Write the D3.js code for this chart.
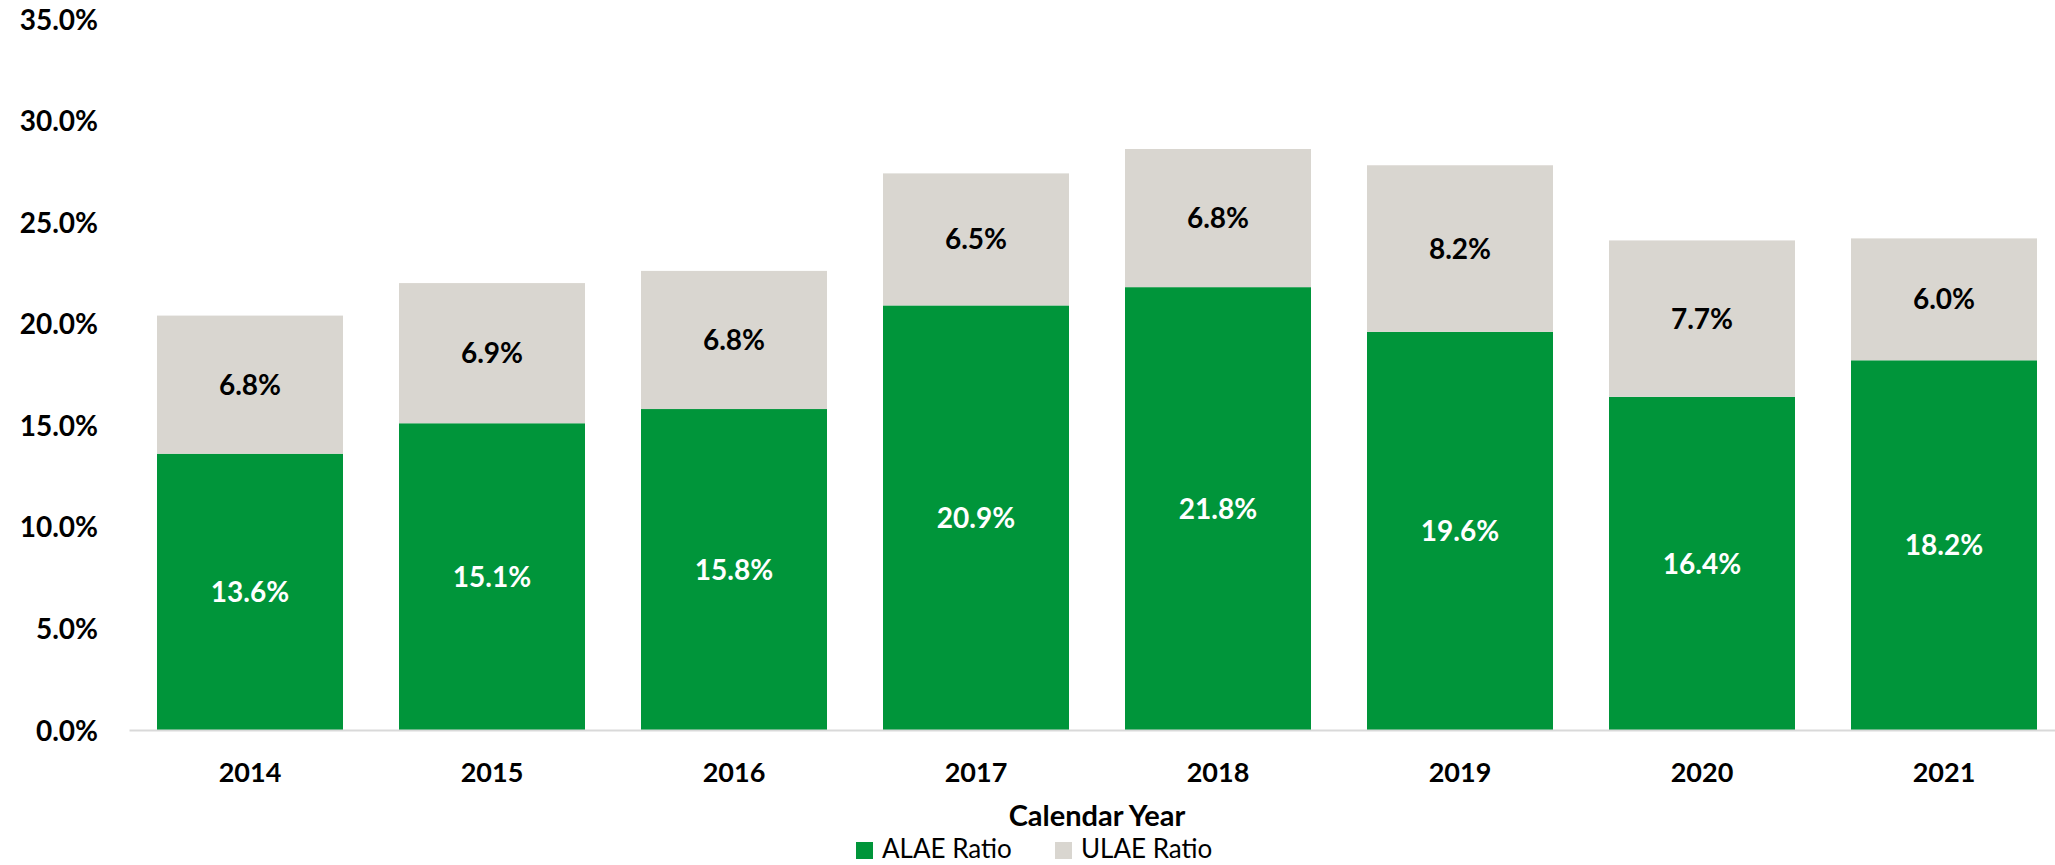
<!DOCTYPE html>
<html>
<head>
<meta charset="utf-8">
<script src="https://cdn.jsdelivr.net/npm/d3@7"></script>
<style>
  html, body { margin: 0; padding: 0; background: #fff; }
  svg { display: block; font-family: Lato, "Open Sans", sans-serif; }
</style>
</head>
<body>
<svg id="chart" width="2055" height="865"></svg>
<script>
const years = ["2014", "2015", "2016", "2017", "2018", "2019", "2020", "2021"];
const alaeRatio = [13.6, 15.1, 15.8, 20.9, 21.8, 19.6, 16.4, 18.2];
const ulaeRatio = [6.8, 6.9, 6.8, 6.5, 6.8, 8.2, 7.7, 6.0];
const yTicks = [0, 5, 10, 15, 20, 25, 30, 35];
const seriesNames = ["ALAE Ratio", "ULAE Ratio"];
const xAxisTitle = "Calendar Year";

const colors = { "ALAE Ratio": "#00953A", "ULAE Ratio": "#D9D6D0" };
const FONT = "Lato, 'Open Sans', sans-serif";

const svg = d3.select("#chart");

const x = d3.scaleBand()
  .domain(years)
  .range([129, 2065])
  .paddingInner(0.2314)
  .paddingOuter(0.1157);

const y = d3.scaleLinear().domain([0, 35]).range([730, 19]);

const rows = years.map((yr, i) => ({ year: yr, "ALAE Ratio": alaeRatio[i], "ULAE Ratio": ulaeRatio[i] }));
const stacked = d3.stack().keys(seriesNames)(rows);

// Y axis labels
const yAxis = d3.axisLeft(y).tickValues(yTicks).tickSize(0).tickPadding(0)
  .tickFormat(d => d.toFixed(1) + "%");
const yg = svg.append("g").attr("transform", "translate(98,0)").call(yAxis);
yg.select(".domain").remove();
yg.selectAll("text")
  .attr("dy", "0.36em")
  .attr("font-family", FONT)
  .attr("font-size", 28).attr("font-weight", 700).attr("fill", "#000");

// Bars
const groups = svg.append("g").selectAll("g").data(stacked).join("g")
  .attr("fill", d => colors[d.key]);
groups.selectAll("rect").data(d => d).join("rect")
  .attr("x", d => x(d.data.year))
  .attr("width", x.bandwidth())
  .attr("y", d => y(d[1]))
  .attr("height", d => y(d[0]) - y(d[1]));

// X axis
const xAxis = d3.axisBottom(x).tickSize(0).tickPadding(0);
const xg = svg.append("g").attr("transform", "translate(0,730)").call(xAxis);
xg.select(".domain").attr("stroke", "#D9D9D9").attr("stroke-width", 2);
xg.selectAll("text")
  .attr("y", 42).attr("dy", "0.36em")
  .attr("font-family", FONT)
  .attr("font-size", 27).attr("font-weight", 700).attr("fill", "#000");

// Value labels
stacked.forEach(s => {
  svg.append("g").selectAll("text").data(s).join("text")
    .attr("x", d => x(d.data.year) + x.bandwidth() / 2)
    .attr("y", d => (y(d[0]) + y(d[1])) / 2)
    .attr("dy", "0.36em")
    .attr("text-anchor", "middle")
    .attr("font-family", FONT)
    .attr("font-size", 28).attr("font-weight", 700)
    .attr("fill", s.key === "ALAE Ratio" ? "#fff" : "#000")
    .text(d => d.data[s.key].toFixed(1) + "%");
});

// Axis title
svg.append("text")
  .attr("x", 1097).attr("y", 826)
  .attr("text-anchor", "middle")
  .attr("font-family", FONT)
  .attr("font-size", 29).attr("font-weight", 700).attr("fill", "#000")
  .text(xAxisTitle);

// Legend
const legendItems = [
  { name: seriesNames[0], x: 856 },
  { name: seriesNames[1], x: 1055 }
];
const lg = svg.append("g").selectAll("g").data(legendItems).join("g")
  .attr("transform", d => `translate(${d.x},0)`);
lg.append("rect").attr("x", 0).attr("y", 842).attr("width", 17).attr("height", 17)
  .attr("fill", d => colors[d.name]);
lg.append("text").attr("x", 26).attr("y", 858)
  .attr("font-family", FONT)
  .attr("font-size", 26).attr("fill", "#000")
  .text(d => d.name);
</script>
</body>
</html>
